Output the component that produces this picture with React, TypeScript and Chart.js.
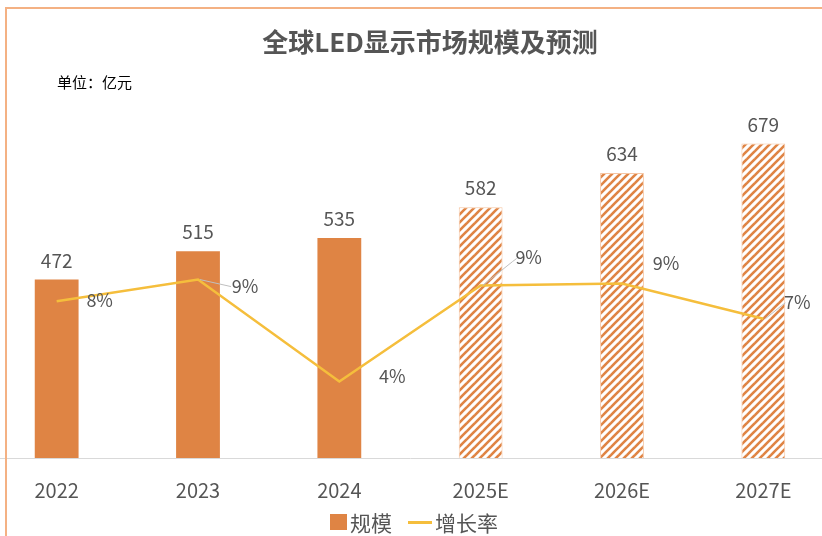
import React, { useEffect, useRef } from "react";
import { Chart, registerables } from "chart.js";

Chart.register(...registerables);

const TITLE = "全球LED显示市场规模及预测";
const UNIT = "单位：亿元";
const CATEGORIES = ["2022", "2023", "2024", "2025E", "2026E", "2027E"];
const MARKET_SIZE = [472, 515, 535, 582, 634, 679];
const GROWTH_RATE = [8.0, 9.1, 3.9, 8.8, 8.9, 7.1];
const GROWTH_LABELS = ["8%", "9%", "4%", "9%", "9%", "7%"];
const IS_FORECAST = [false, false, false, true, true, true];
const SERIES_NAMES = ["规模", "增长率"];

// label placement (styling): offset of the growth label from its point, and whether a leader line is drawn
const GROWTH_LABEL_OFFSET: [number, number, boolean][] = [
  [43, -1, false],
  [47, 7, true],
  [53, -5, false],
  [48, -28, true],
  [44, -20, false],
  [34, -17, true],
];

const ORANGE = "#DF8444";
const GOLD = "#F5BE3C";
const TEXT = "#555555";
const FONT = "'Noto Sans CJK SC', 'Noto Sans', sans-serif";

function makeHatch(): CanvasPattern | string {
  const c = document.createElement("canvas");
  c.width = 8;
  c.height = 8;
  const g = c.getContext("2d");
  if (!g) return ORANGE;
  g.fillStyle = "#ffffff";
  g.fillRect(0, 0, 8, 8);
  g.strokeStyle = ORANGE;
  g.lineWidth = 2.6;
  const seg = (x1: number, y1: number, x2: number, y2: number) => {
    g.beginPath();
    g.moveTo(x1, y1);
    g.lineTo(x2, y2);
    g.stroke();
  };
  seg(-2, 10, 10, -2);
  seg(-6, 6, 6, -6);
  seg(2, 14, 14, 2);
  const p = g.createPattern(c, "repeat");
  return p || ORANGE;
}

const labelPlugin = {
  id: "valueLabels",
  afterDatasetsDraw(chart: any) {
    const ctx = chart.ctx;
    ctx.save();
    const barMeta = chart.getDatasetMeta(1);
    ctx.font = `19px ${FONT}`;
    ctx.fillStyle = TEXT;
    ctx.textAlign = "center";
    ctx.textBaseline = "middle";
    barMeta.data.forEach((el: any, i: number) => {
      ctx.fillText(String(MARKET_SIZE[i]), el.x, el.y - 19);
    });
    ctx.font = `18px ${FONT}`;
    const lineMeta = chart.getDatasetMeta(0);
    lineMeta.data.forEach((el: any, i: number) => {
      const [dx, dy, leader] = GROWTH_LABEL_OFFSET[i];
      const lx = el.x + dx;
      const ly = el.y + dy;
      if (leader) {
        ctx.strokeStyle = "#BFBFBF";
        ctx.lineWidth = 1;
        ctx.beginPath();
        ctx.moveTo(el.x + 2, el.y);
        if (dy < -5) {
          ctx.lineTo(lx - 16, ly + 4);
          ctx.lineTo(lx - 12, ly + 1);
        } else {
          ctx.lineTo(lx - 14, ly);
        }
        ctx.stroke();
      }
      ctx.fillStyle = TEXT;
      ctx.fillText(GROWTH_LABELS[i], lx, ly);
    });
    ctx.restore();
  },
};

export default function App() {
  const ref = useRef<HTMLCanvasElement | null>(null);
  useEffect(() => {
    if (!ref.current) return;
    const hatch = makeHatch();
    const chart = new Chart(ref.current, {
      type: "bar",
      data: {
        labels: CATEGORIES,
        datasets: [
          {
            type: "line",
            label: SERIES_NAMES[1],
            data: GROWTH_RATE,
            borderColor: GOLD,
            backgroundColor: GOLD,
            borderWidth: 2.5,
            pointRadius: 0,
            tension: 0,
            yAxisID: "y2",
            order: 0,
          } as any,
          {
            type: "bar",
            label: SERIES_NAMES[0],
            data: MARKET_SIZE,
            backgroundColor: IS_FORECAST.map((f) => (f ? hatch : ORANGE)),
            borderColor: IS_FORECAST.map((f) => (f ? "#F6C6A4" : ORANGE)),
            borderWidth: IS_FORECAST.map((f) => (f ? 1 : 0)),
            barPercentage: 0.62,
            categoryPercentage: 0.5,
            yAxisID: "y",
            order: 1,
          } as any,
        ],
      },
      options: {
        animation: false,
        responsive: false,
        maintainAspectRatio: false,
        layout: { padding: { top: 110, bottom: 14, left: 0, right: 0 } },
        plugins: {
          legend: { display: false },
          title: { display: false },
          tooltip: { enabled: false },
        },
        scales: {
          x: {
            grid: { display: false, drawTicks: false },
            border: { display: true, color: "#D9D9D9", width: 1 },
            ticks: {
              color: TEXT,
              font: { family: FONT, size: 20 },
              padding: 20,
            },
          },
          y: { display: false, min: 200, max: 730 },
          y2: { display: false, min: 0, max: 17.75, position: "right" },
        },
      },
      plugins: [labelPlugin],
    });
    return () => chart.destroy();
  }, []);

  return (
    <div
      style={{
        position: "fixed",
        left: 0,
        top: 0,
        width: 822,
        height: 536,
        overflow: "hidden",
        background: "#fff",
        fontFamily: FONT,
      }}
    >
      <canvas
        ref={ref}
        width={848}
        height={536}
        style={{ position: "absolute", left: -14, top: 0, width: 848, height: 536 }}
      />
      <div style={{ position: "absolute", left: 5, top: 7, width: 2, height: 540, background: "#F4B183" }} />
      <div style={{ position: "absolute", left: 5, top: 7, width: 830, height: 2, background: "#F4B183" }} />
      <div
        style={{
          position: "absolute",
          left: 0,
          width: 860,
          top: 23,
          textAlign: "center",
          fontSize: 26,
          fontWeight: 700,
          color: TEXT,
          lineHeight: "36px",
          whiteSpace: "nowrap",
        }}
      >
        {TITLE}
      </div>
      <div
        style={{
          position: "absolute",
          left: 57,
          top: 72,
          fontSize: 15,
          color: "#000",
          lineHeight: "20px",
          whiteSpace: "nowrap",
        }}
      >
        {UNIT}
      </div>
      <div
        style={{
          position: "absolute",
          left: 330,
          top: 508,
          display: "flex",
          alignItems: "center",
          fontSize: 21,
          color: TEXT,
          lineHeight: "28px",
          whiteSpace: "nowrap",
        }}
      >
        <span style={{ display: "inline-block", width: 17, height: 16, background: ORANGE, marginRight: 3 }} />
        <span>{SERIES_NAMES[0]}</span>
        <span style={{ display: "inline-block", width: 24, height: 3, background: GOLD, marginLeft: 16, marginRight: 3 }} />
        <span>{SERIES_NAMES[1]}</span>
      </div>
    </div>
  );
}
